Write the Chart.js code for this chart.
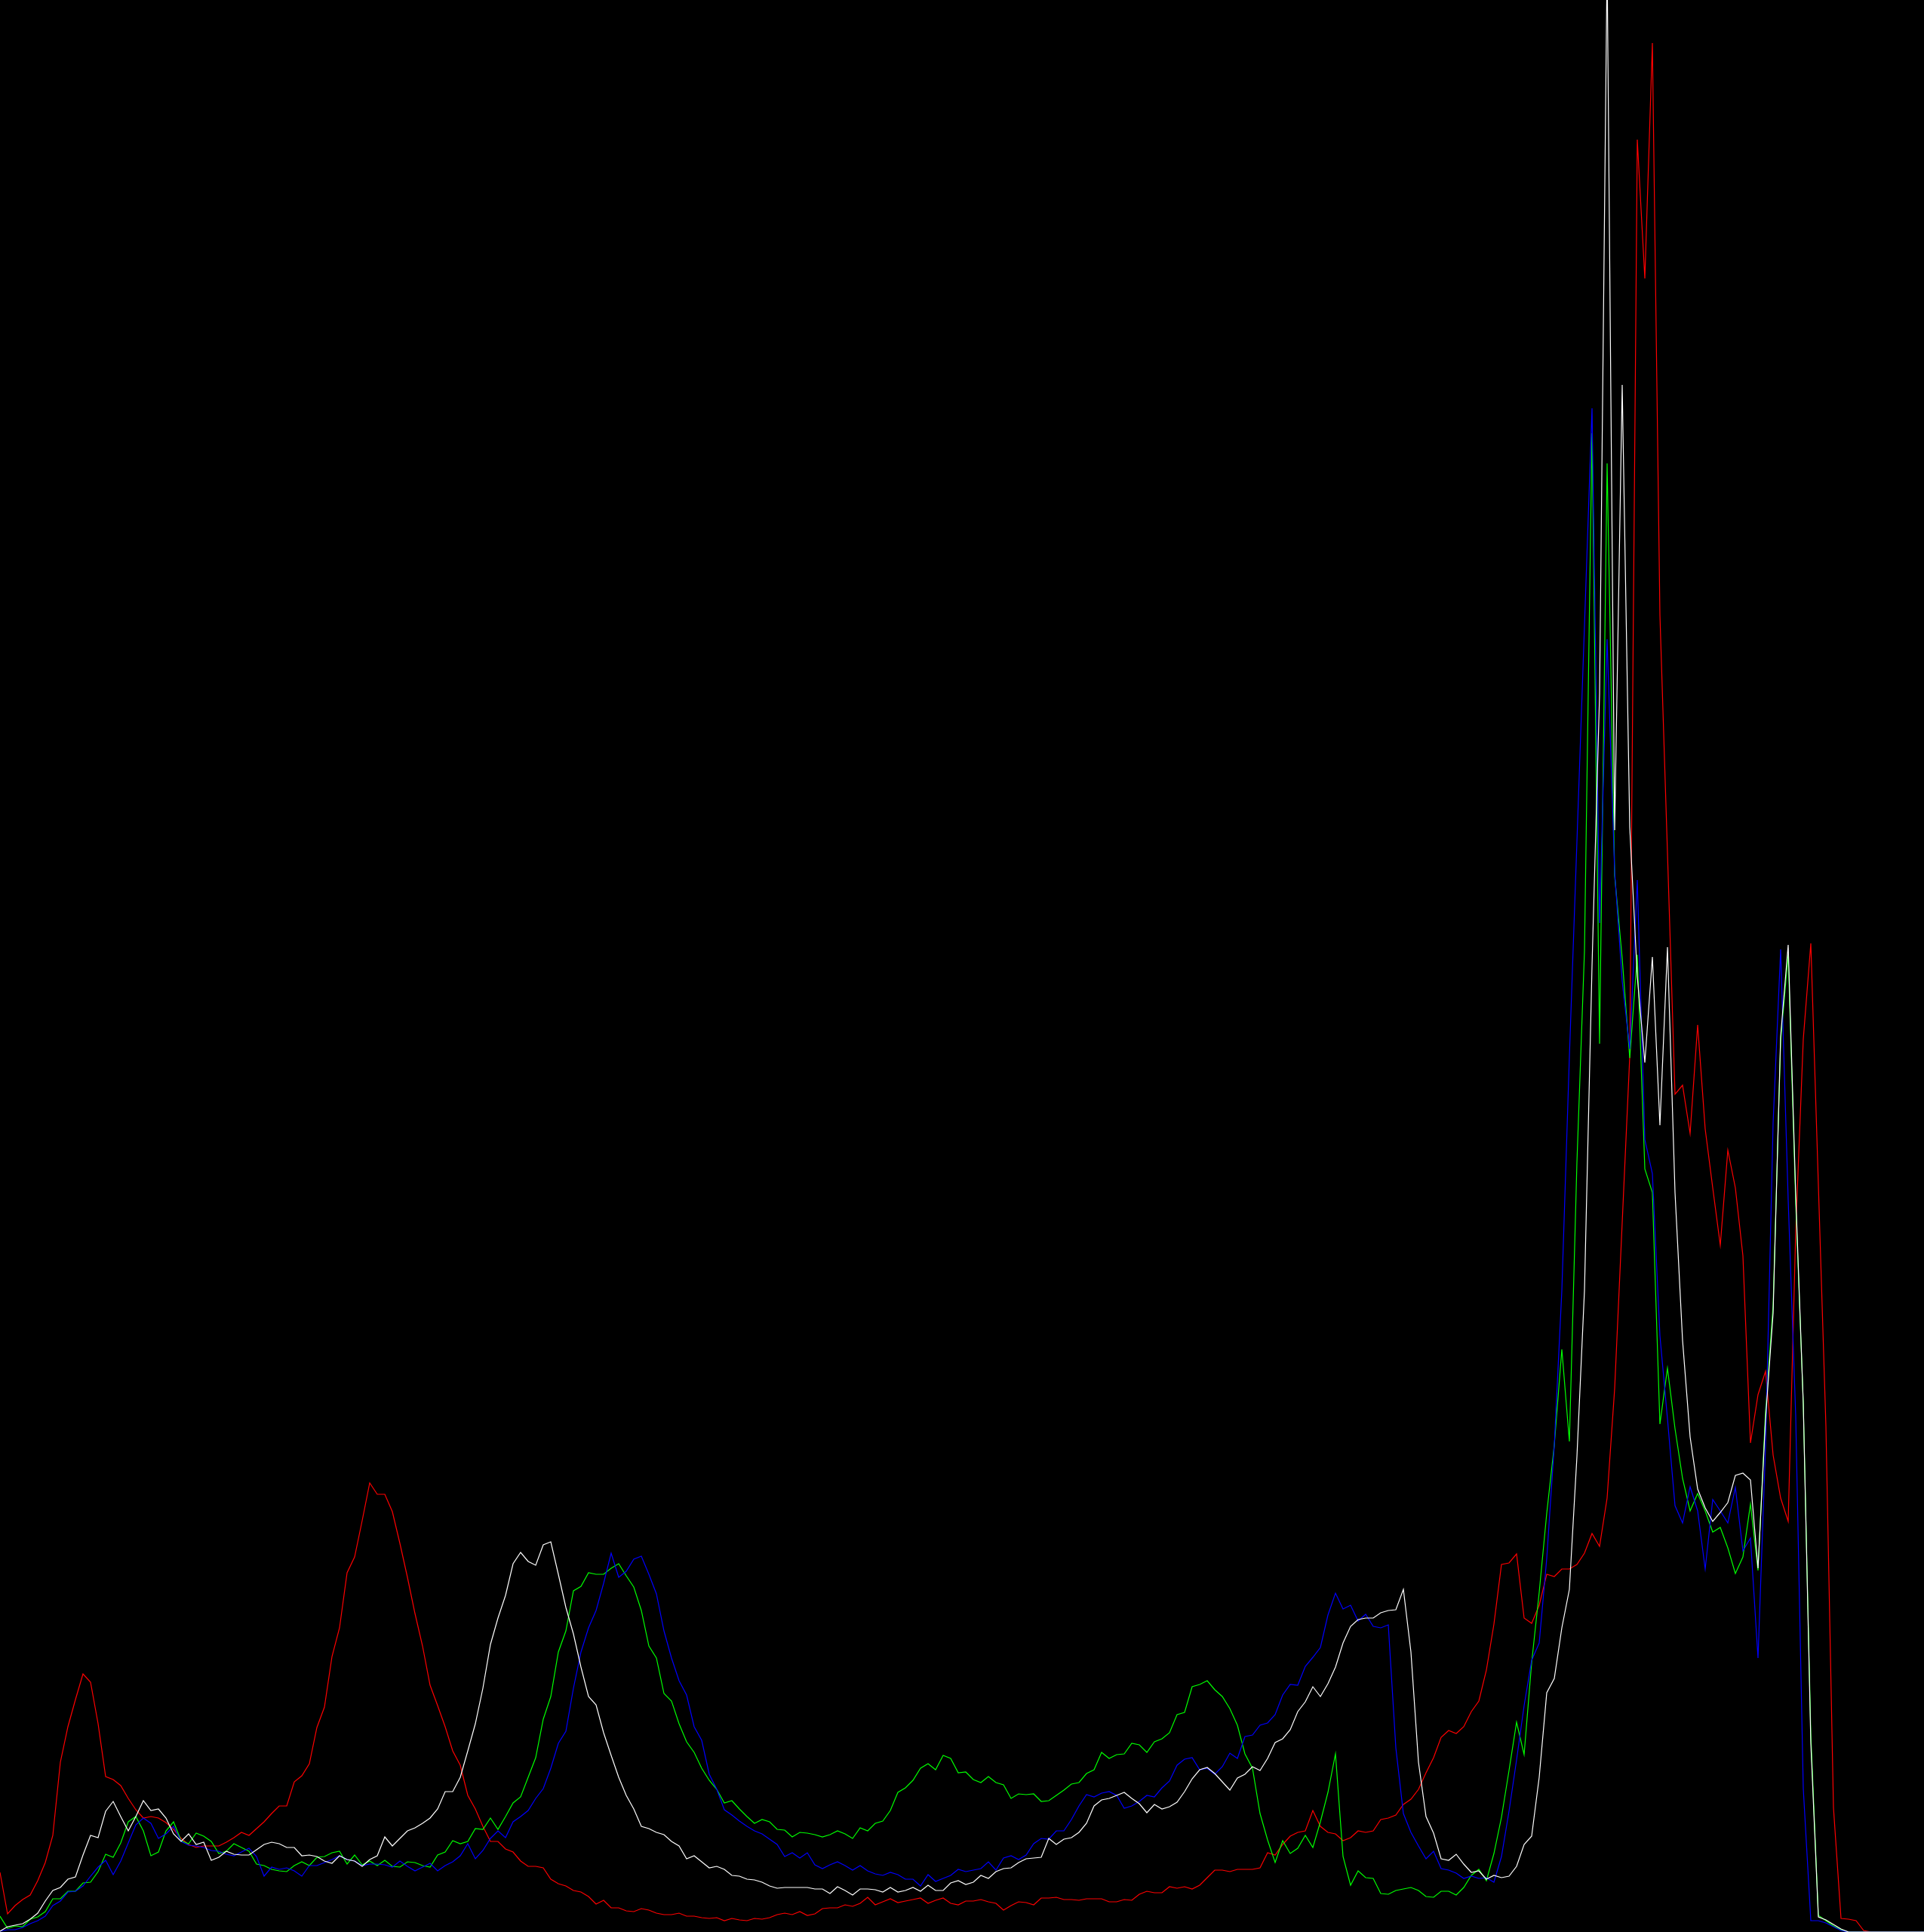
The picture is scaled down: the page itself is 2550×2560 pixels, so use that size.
<!DOCTYPE html>
<html>
<head>
<meta charset="utf-8">
<script src="https://cdn.jsdelivr.net/npm/chart.js@4.4.1/dist/chart.umd.min.js"></script>
<style>
html, body { margin: 0; padding: 0; background: #000; }
#wrap { width: 2550px; height: 2560px; background: #000; }
</style>
</head>
<body>
<div id="wrap"><canvas id="c" width="2550" height="2560"></canvas></div>
<script>
const bins = Array.from({length: 256}, (_, i) => i);

const red = [
79,24,35,43,49,68,92,128,225,272,308,342,331,276,206,202,
194,177,162,151,153,151,145,136,124,116,112,114,114,114,119,125,
132,128,137,146,157,167,167,199,207,223,271,298,365,403,476,497,
545,595,580,580,557,515,470,422,379,327,300,272,240,221,181,163,
140,120,120,110,106,94,87,87,85,70,64,61,55,53,47,37,
42,32,32,28,27,31,29,25,23,23,25,21,21,19,18,19,
15,18,16,15,18,17,19,23,25,23,27,22,24,31,32,32,
36,34,38,46,36,40,44,39,41,43,45,38,42,45,38,36,
41,41,43,40,38,29,35,40,39,36,45,45,46,43,43,42,
44,44,44,40,40,43,42,50,54,52,52,60,58,60,57,62,
72,82,82,80,83,83,83,85,105,102,116,127,132,134,161,140,
132,130,121,125,134,132,134,149,151,155,169,176,189,211,231,258,
267,263,272,292,306,347,408,487,489,501,416,409,433,474,471,481,
481,487,502,528,511,575,720,940,1160,2375,2191,2503,1745,1430,1110,1122,
1058,1202,1064,986,910,1036,986,896,648,712,743,632,575,544,930,1183,
1310,990,670,165,18,17,15,2,0,0,0,0,0,0,0,0
];

const green = [
21,5,8,7,17,20,27,44,44,54,54,65,66,80,103,99,
118,146,153,134,101,106,134,146,121,117,131,127,120,104,107,117,
112,107,90,88,83,81,80,88,93,88,99,100,105,107,90,102,
89,94,88,95,87,86,93,92,88,86,102,106,121,117,120,137,
136,151,136,153,171,179,205,231,282,312,371,399,452,458,476,474,
474,482,488,472,457,426,379,363,316,306,276,252,238,217,201,189,
171,174,163,153,144,149,146,136,135,126,132,131,129,126,129,134,
130,124,138,134,144,147,161,185,191,201,217,223,215,234,230,211,
212,202,198,206,198,195,177,183,182,183,173,174,181,188,196,198,
210,215,238,230,235,236,250,248,238,252,256,264,288,291,325,328,
333,321,312,296,274,236,217,157,122,92,121,104,111,128,112,146,
185,236,100,62,81,72,71,51,50,55,57,59,55,47,46,54,
54,49,59,75,83,68,104,152,214,278,235,357,450,555,645,772,
650,1020,1300,1986,1177,1946,1400,1290,1158,1295,1011,980,673,747,667,601,
558,581,558,530,536,509,475,497,567,479,690,830,1180,1295,965,700,
262,22,15,8,3,0,0,0,0,0,0,0,0,0,0,0
];

const blue = [
1,3,3,6,11,15,21,35,41,53,54,61,74,86,95,76,
94,118,142,151,144,124,130,140,120,115,114,112,108,107,103,101,
106,111,100,74,86,83,85,81,74,88,88,92,96,101,96,94,
88,90,90,89,86,94,87,81,86,91,81,88,93,101,117,97,
108,124,134,125,146,153,161,177,190,217,250,266,323,371,403,426,
462,502,470,478,494,498,474,448,399,363,333,314,272,254,209,189,
162,155,147,140,134,130,123,116,100,105,98,105,89,84,89,93,
88,82,88,81,77,75,79,76,70,70,61,76,67,71,75,83,
80,82,84,93,82,98,101,96,102,117,124,123,134,134,149,167,
182,179,184,186,181,164,167,173,181,179,191,200,221,229,231,215,
217,209,219,237,230,259,261,274,277,288,314,328,327,352,364,377,
420,449,428,433,412,421,405,403,407,244,157,132,114,97,107,84,
82,78,71,74,71,72,66,100,160,228,300,360,383,495,645,850,
1160,1445,1731,2019,1337,1713,1405,1260,1170,1394,1050,1005,790,680,565,542,
590,558,481,573,558,542,589,505,522,363,644,1072,1302,970,683,190,
15,15,12,7,2,0,0,0,0,0,0,0,0,0,0,0
];

const white = [
1,7,9,11,17,25,41,55,59,70,73,102,128,125,160,173,
153,134,153,174,161,163,151,130,120,130,116,119,95,99,107,103,
102,102,109,116,119,117,112,112,101,102,100,94,91,101,96,94,
87,96,101,126,114,124,134,138,144,151,163,186,186,205,240,276,
323,381,416,446,488,503,491,486,513,517,474,430,395,351,312,301,
264,234,205,181,163,140,137,132,129,120,114,97,101,93,85,87,
83,75,74,70,69,66,61,58,59,59,59,59,57,57,51,60,
55,49,57,57,56,53,59,53,55,59,54,62,55,55,65,68,
63,66,75,71,80,84,85,92,97,98,99,124,116,123,125,132,
144,167,175,177,181,185,177,170,158,169,163,166,172,186,203,215,
218,210,199,188,204,209,219,214,230,251,256,268,292,305,325,312,
329,351,383,405,414,416,416,423,426,427,454,371,225,153,131,97,
95,103,90,79,81,70,75,72,74,87,116,127,205,317,336,403,
454,630,850,1280,1640,2610,1460,2050,1464,1266,1152,1292,1069,1305,980,784,
656,587,562,544,556,569,605,608,599,482,680,820,1187,1308,976,700,
250,20,16,10,4,0,0,0,0,0,0,0,0,0,0,0
];

const bgPlugin = {
  id: 'bg',
  beforeDraw(chart) {
    const ctx = chart.ctx;
    ctx.save();
    ctx.fillStyle = '#000000';
    ctx.fillRect(0, 0, chart.width, chart.height);
    ctx.restore();
  }
};

function ds(label, data, color, order) {
  return {
    label, data,
    borderColor: color,
    backgroundColor: color,
    borderWidth: 1.2,
    pointRadius: 0,
    pointHoverRadius: 0,
    tension: 0,
    fill: false,
    order
  };
}

new Chart(document.getElementById('c'), {
  type: 'line',
  data: {
    labels: bins,
    datasets: [
      ds('R', red, '#ff0000', 3),
      ds('G', green, '#00ff00', 2),
      ds('B', blue, '#0000ff', 1),
      ds('L', white, '#ffffff', 0)
    ]
  },
  options: {
    responsive: false,
    animation: false,
    devicePixelRatio: 1,
    layout: { padding: 0 },
    plugins: { legend: { display: false }, tooltip: { enabled: false }, title: { display: false } },
    events: [],
    scales: {
      x: { type: 'category', display: false, offset: false },
      y: { type: 'linear', display: false, min: 0, max: 2560 }
    }
  },
  plugins: [bgPlugin]
});
</script>
</body>
</html>
